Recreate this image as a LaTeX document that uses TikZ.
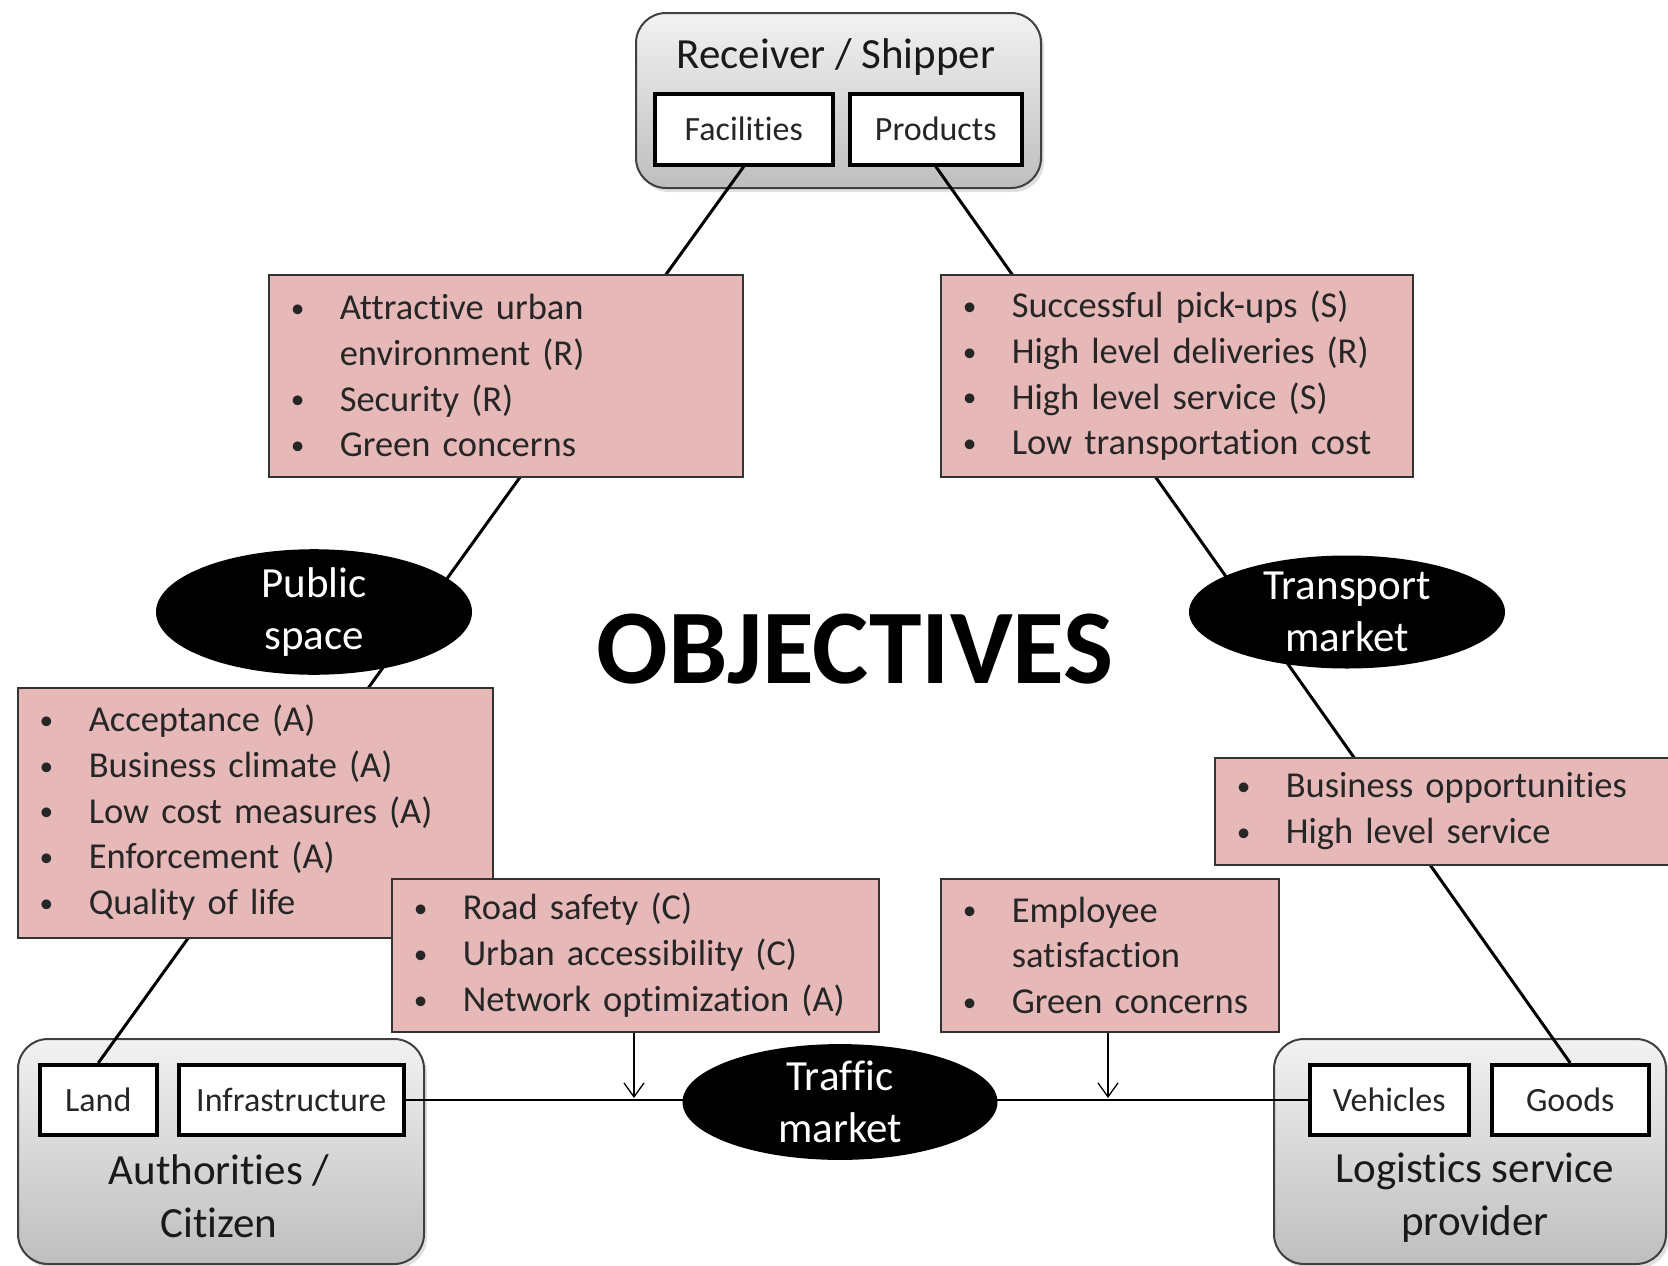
\documentclass[tikz,border=0pt]{standalone}
\usepackage{fontspec}
\setmainfont{Carlito}[Ligatures=NoCommon]
\usetikzlibrary{shapes.geometric,arrows.meta,shadows,calc}
\definecolor{pinkfill}{RGB}{230,185,184}
\definecolor{grptop}{RGB}{242,242,242}
\definecolor{grpbot}{RGB}{190,190,190}
% bullet line and its hanging continuation
\newcommand\bitem[1]{\hspace*{22pt}\makebox[49pt][l]{\raisebox{0.06em}{\scalebox{0.75}{\textbullet}}}#1}
\newcommand\bcont[1]{\hspace*{71pt}#1}
\begin{document}
\begin{tikzpicture}[x=1pt,y=-1pt,
  grp/.style={draw=black!75, line width=2pt, rounded corners=30pt,
    top color=grptop, bottom color=grpbot, anchor=north west,
    drop shadow={opacity=0.25,shadow xshift=3pt,shadow yshift=-4pt}},
  grplabel/.style={font=\fontsize{43}{53}\selectfont, align=center, text=black!90, inner sep=0pt},
  smallbox/.style={draw=black, line width=3.5pt, fill=white, anchor=north west,
    font=\fontsize{34}{40}\selectfont, inner sep=0pt, text=black!85},
  pinkbox/.style={draw=black!80, line width=1.5pt, fill=pinkfill, anchor=north west,
    inner sep=0pt, align=left, font=\fontsize{36.5}{45.7}\selectfont, text=black!85},
  oval/.style={ellipse, fill=black, inner sep=0pt, text=white, align=center,
    font=\fontsize{43}{52}\selectfont},
  link/.style={line width=3pt, black},
  feed/.style={line width=1.3pt, -{Straight Barb[length=14pt,width=20pt,line width=1.3pt]}}
]
\fill[white] (0,0) rectangle (1668,1266);
\useasboundingbox (0,0) rectangle (1668,1266);

% actor groups
\node[grp, minimum width=405pt, minimum height=175pt] (rs) at (635,12) {};
\node[grp, minimum width=406pt, minimum height=225pt] (ac) at (17,1038) {};
\node[grp, minimum width=392pt, minimum height=225pt] (lsp) at (1273,1038) {};

\node[grplabel] (rsT) at (836,57) {Receiver / Shipper};
\node[grplabel] (acT) at (219,1196) {Authorities /\\Citizen};
\node[grplabel] (lspT) at (1475,1198) {Logistics service\\provider};

% resources
\node[smallbox, minimum width=178pt, minimum height=71pt] (fac) at (653,92) {Facilities};
\node[smallbox, minimum width=172pt, minimum height=71pt] (prod) at (848,92) {Products};
\node[smallbox, minimum width=117pt, minimum height=70pt] (land) at (38,1063) {Land};
\node[smallbox, minimum width=225pt, minimum height=70pt] (infra) at (177,1063) {Infrastructure};
\node[smallbox, minimum width=159pt, minimum height=70pt] (veh) at (1308,1063) {Vehicles};
\node[smallbox, minimum width=157pt, minimum height=70pt] (goods) at (1490,1063) {Goods};

% market links
\draw[link] (fac.south) -- (land.north);
\draw[link] (prod.south) -- (goods.north);
\draw[link, line width=2.2pt] (infra.east) -- (veh.west);

% objectives
\node[pinkbox, text width=474pt, minimum height=202pt] (pTL) at (268,274)
  {\bitem{Attractive urban}\\\bcont{environment (R)}\\\bitem{Security (R)}\\\bitem{Green concerns}};
\node[pinkbox, text width=472pt, minimum height=202pt] (pTR) at (940,274)
  {\bitem{Successful pick-ups (S)}\\\bitem{High level deliveries (R)}\\\bitem{High level service (S)}\\\bitem{Low transportation cost}};
\node[pinkbox, text width=475pt, minimum height=250pt] (pL) at (17,687)
  {\bitem{Acceptance (A)}\\\bitem{Business climate (A)}\\\bitem{Low cost measures (A)}\\\bitem{Enforcement (A)}\\\bitem{Quality of life}};
\node[pinkbox, text width=470pt, minimum height=107pt] (pR) at (1214,757)
  {\bitem{Business opportunities}\\\bitem{High level service}};
\node[pinkbox, text width=487pt, minimum height=153pt] (pM) at (391,878)
  {\bitem{Road safety (C)}\\\bitem{Urban accessibility (C)}\\\bitem{Network optimization (A)}};
\node[pinkbox, text width=338pt, minimum height=153pt] (pE) at (940,878)
  {\bitem{Employee}\\\bcont{satisfaction}\\\bitem{Green concerns}};

% objectives feeding the traffic market
\coordinate (fL) at (634,1098);
\coordinate (fR) at (1108,1098);
\draw[feed] (pM.south -| fL) -- (fL);
\draw[feed] (pE.south -| fR) -- (fR);

% markets
\node[oval, minimum width=316pt, minimum height=110pt] (pub) at (314,612) {Public\\space};
\node[oval, minimum width=316pt, minimum height=110pt] (trans) at (1347,612) {Transport\\market};
\node[oval, minimum width=315pt, minimum height=112pt] (traf) at (840,1102) {Traffic\\market};

\node[font=\fontsize{106}{110}\bfseries\selectfont, inner sep=0pt] (obj) at (855,649) {OBJECTIVES};
\end{tikzpicture}
\end{document}
